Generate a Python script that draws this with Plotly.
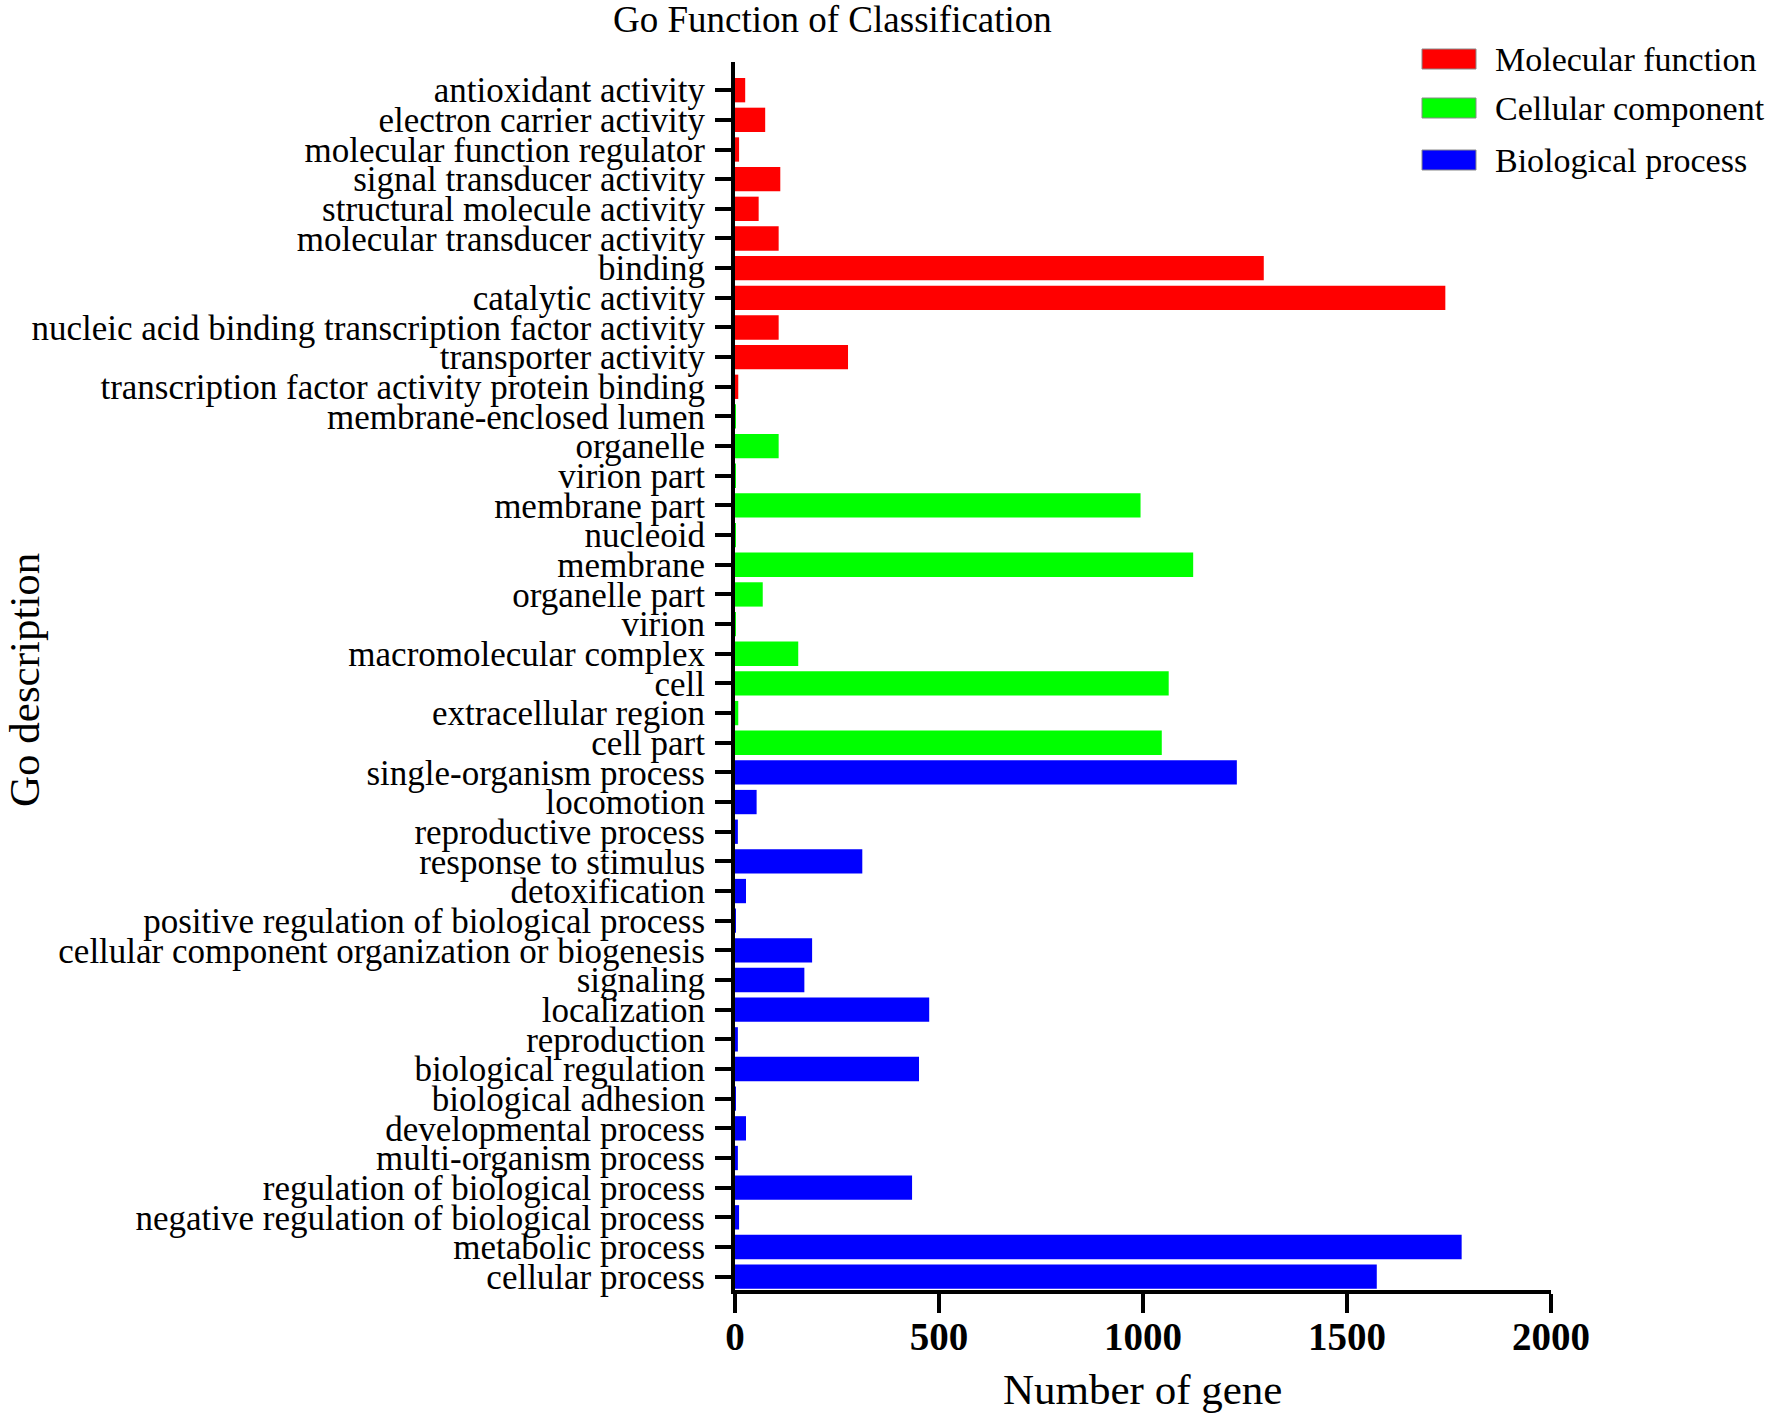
import plotly.graph_objects as go

# ---------------- data (top-to-bottom order) ----------------
mf_terms = ["antioxidant activity", "electron carrier activity", "molecular function regulator",
            "signal transducer activity", "structural molecule activity", "molecular transducer activity",
            "binding", "catalytic activity", "nucleic acid binding transcription factor activity",
            "transporter activity", "transcription factor activity protein binding"]
mf_counts = [25, 74, 10, 111, 58, 107, 1296, 1741, 107, 277, 8]

cc_terms = ["membrane-enclosed lumen", "organelle", "virion part", "membrane part", "nucleoid",
            "membrane", "organelle part", "virion", "macromolecular complex", "cell",
            "extracellular region", "cell part"]
cc_counts = [1, 107, 1, 994, 1, 1123, 68, 1, 155, 1063, 8, 1046]

bp_terms = ["single-organism process", "locomotion", "reproductive process", "response to stimulus",
            "detoxification", "positive regulation of biological process",
            "cellular component organization or biogenesis", "signaling", "localization",
            "reproduction", "biological regulation", "biological adhesion", "developmental process",
            "multi-organism process", "regulation of biological process",
            "negative regulation of biological process", "metabolic process", "cellular process"]
bp_counts = [1230, 53, 7, 312, 27, 1, 189, 170, 476, 7, 451, 1, 27, 7, 434, 10, 1781, 1573]

series_names = ["Molecular function", "Cellular component", "Biological process"]
series_colors = ["#FF0000", "#00FF00", "#0000FF"]

x_ticks = [0, 500, 1000, 1500, 2000]

all_terms = mf_terms + cc_terms + bp_terms

# ---------------- layout geometry (pixels) ----------------
W, H = 1772, 1415
L, R, T, B = 735, 1551, 62, 1290
SERIF = "Liberation Serif, Times New Roman, serif"

def px_x(p):
    return (p - L) / (R - L)

def px_y(p):
    return (B - p) / (B - T)

fig = go.Figure()
for name, terms, counts, color in zip(series_names, [mf_terms, cc_terms, bp_terms],
                                      [mf_counts, cc_counts, bp_counts], series_colors):
    fig.add_trace(go.Bar(
        y=terms, x=counts, orientation="h", name=name,
        marker=dict(color=color, line=dict(width=0)),
        width=0.82, showlegend=False,
    ))

n = len(all_terms)
fig.update_layout(
    width=W, height=H,
    margin=dict(l=L, r=W - R, t=T, b=H - B, pad=0, autoexpand=False),
    paper_bgcolor="white", plot_bgcolor="white",
    barmode="overlay",
    font=dict(family=SERIF, color="black"),
    xaxis=dict(
        range=[0, 2000], tickmode="array", tickvals=x_ticks, ticktext=[str(v) for v in x_ticks],
        showgrid=False, zeroline=False,
        showline=True, linecolor="black", linewidth=4,
        ticks="outside", ticklen=19, tickwidth=4, tickcolor="black",
        tickfont=dict(family=SERIF, size=39, color="black", weight="bold"),
        ticklabelstandoff=-10, automargin=False,
    ),
    yaxis=dict(
        type="category", categoryorder="array", categoryarray=all_terms,
        tickmode="array", tickvals=all_terms, ticktext=all_terms,
        range=[n - 1 + 0.45, -0.95],
        showgrid=False, zeroline=False,
        showline=True, linecolor="black", linewidth=4,
        ticks="outside", ticklen=16, tickwidth=4, tickcolor="black",
        tickfont=dict(family=SERIF, size=35, color="black"),
        ticklabelstandoff=3, automargin=False,
    ),
)

annotations = [
    dict(text="Go Function of Classification", xref="paper", yref="paper",
         x=px_x(832), y=px_y(20), xanchor="center", yanchor="middle", showarrow=False,
         font=dict(family=SERIF, size=37, color="black")),
    dict(text="Number of gene", xref="paper", yref="paper",
         x=px_x(1142), y=px_y(1389), xanchor="center", yanchor="middle", showarrow=False,
         font=dict(family=SERIF, size=43, color="black")),
    dict(text="Go description", xref="paper", yref="paper", textangle=-90,
         x=px_x(24), y=px_y(680), xanchor="center", yanchor="middle", showarrow=False,
         font=dict(family=SERIF, size=43, color="black")),
]

shapes = []
legend_rows = [59, 108, 160]
for name, color, yc in zip(series_names, series_colors, legend_rows):
    shapes.append(dict(type="rect", xref="paper", yref="paper",
                       x0=px_x(1422), x1=px_x(1476), y0=px_y(yc + 10), y1=px_y(yc - 10),
                       fillcolor=color, line=dict(color="#888888", width=1)))
    annotations.append(dict(text=name, xref="paper", yref="paper",
                            x=px_x(1493), y=px_y(yc), xanchor="left", yanchor="middle",
                            showarrow=False, font=dict(family=SERIF, size=34, color="black")))

fig.update_layout(annotations=annotations, shapes=shapes)

fig.write_html("out.html", config={"displayModeBar": False},
               post_script="document.body.style.margin='0';")
